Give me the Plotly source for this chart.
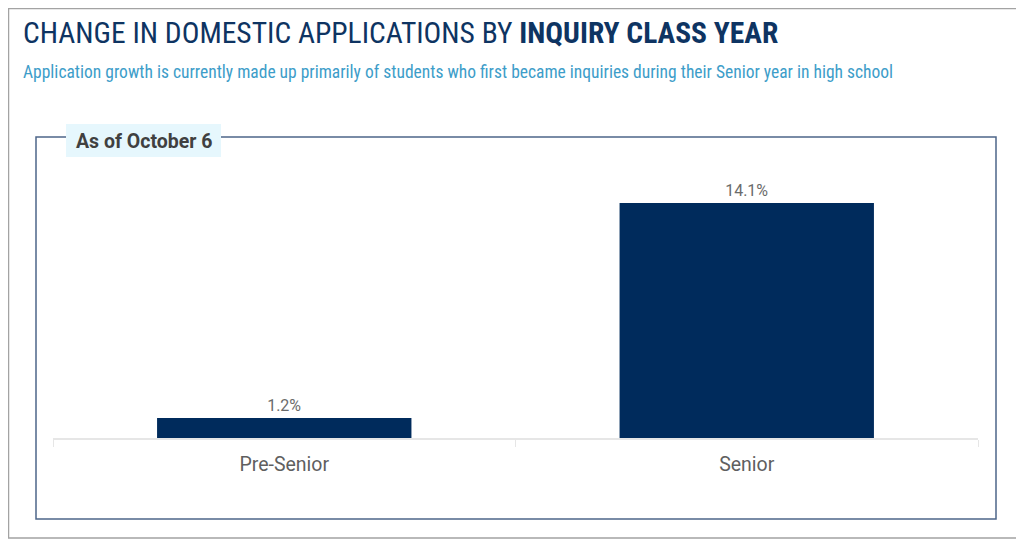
import plotly.graph_objects as go

categories = ["Pre-Senior", "Senior"]
growth_pct = [1.2, 14.1]

TITLE_REG = "CHANGE IN DOMESTIC APPLICATIONS BY "
TITLE_BOLD = "INQUIRY CLASS YEAR"
SUBTITLE = ("Application growth is currently made up primarily of students who first "
            "became inquiries during their Senior year in high school")
PANEL_LABEL = "As of October 6"

NAVY = "#002b5c"
COND = "Roboto Condensed, Roboto, sans-serif"

# page body has an 8px margin, so the figure is laid out in screen pixels minus OFF
OFF = 8
W, H = 1016, 532
# plot area on screen: x 53..978, y 153..438
L, T = 53 - OFF, 153 - OFF
R, B = W - (978 - OFF), H - (438 - OFF)
PW, PH = W - L - R, H - T - B


def px(sx):
    return (sx - OFF - L) / PW


def py(sy):
    return (H - B - (sy - OFF)) / PH


fig = go.Figure()
fig.add_trace(go.Bar(
    x=categories, y=growth_pct,
    marker=dict(color=NAVY, line=dict(width=0)),
    texttemplate="%{y:.1f}%", textposition="outside",
    textfont=dict(family="Roboto", size=16, color="#6b6b6b"),
    cliponaxis=False, hoverinfo="skip",
))

fig.update_layout(
    width=W, height=H,
    margin=dict(l=L, r=R, t=T, b=B),
    paper_bgcolor="white", plot_bgcolor="white",
    bargap=0.45, showlegend=False,
    xaxis=dict(
        showline=True, linecolor="#e6e6e6", linewidth=2,
        ticks="outside", tickson="boundaries", ticklen=7, tickcolor="#e6e6e6", tickwidth=1,
        tickfont=dict(family="Roboto", size=19.5, color="#5f5f5f"),
        ticklabelstandoff=8,
        showgrid=False, fixedrange=True,
    ),
    yaxis=dict(range=[0, PH / (235 / 14.1)], visible=False, fixedrange=True),
    shapes=[
        # outer frame
        dict(type="rect", xref="paper", yref="paper",
             x0=px(OFF + 0.5), x1=px(1020), y0=py(538), y1=py(OFF + 0.5),
             line=dict(color="#a3a3a3", width=1.5), layer="below"),
        # inner panel
        dict(type="rect", xref="paper", yref="paper",
             x0=px(36), x1=px(996), y0=py(519), y1=py(137),
             line=dict(color="#4d6689", width=1.5), layer="below"),
        # label background
        dict(type="rect", xref="paper", yref="paper",
             x0=px(66), x1=px(221), y0=py(157), y1=py(124),
             fillcolor="#e6f7fd", line=dict(width=0), layer="above"),
    ],
    annotations=[
        dict(text=TITLE_REG + "<b>" + TITLE_BOLD + "</b>", xref="paper", yref="paper",
             x=px(21), y=py(33), xanchor="left", yanchor="middle", showarrow=False,
             font=dict(family=COND, size=29.5, color="#0e3462")),
        dict(text=SUBTITLE, xref="paper", yref="paper",
             x=px(21), y=py(72), xanchor="left", yanchor="middle", showarrow=False,
             font=dict(family=COND, size=17.5, color="#3d9dc9")),
        dict(text="<b>" + PANEL_LABEL + "</b>", xref="paper", yref="paper",
             x=px(74), y=py(141), xanchor="left", yanchor="middle", showarrow=False,
             font=dict(family="Roboto", size=19.5, color="#404040")),
    ],
)

fig.write_html("out.html")
